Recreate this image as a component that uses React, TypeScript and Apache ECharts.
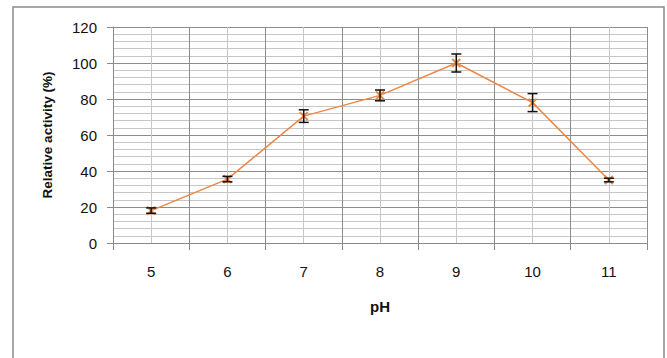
import React, { useEffect, useRef } from "react";
import * as echarts from "echarts";

const phLabels = ["5", "6", "7", "8", "9", "10", "11"];
const activity = [18, 35.5, 70.5, 82, 100, 78, 35];
const errors = [1.5, 1.5, 3.5, 3, 5, 5, 1];
const yTicks = { min: 0, max: 120, step: 20 };

const FONT = "'Liberation Sans', Arial, sans-serif";
const ORANGE = "#EC8745";

export default function App() {
  const ref = useRef<HTMLDivElement>(null);
  useEffect(() => {
    if (!ref.current) return;
    const chart = echarts.init(ref.current, undefined, { renderer: "svg" });
    const errData = activity.map((v, i) => [i, v - errors[i], v + errors[i]]);
    chart.setOption({
      animation: false,
      backgroundColor: "#ffffff",
      graphic: [
        {
          type: "rect",
          shape: { x: 13, y: 7, width: 651, height: 400 },
          style: { fill: "none", stroke: "#8a8a8a", lineWidth: 1.5 },
          silent: true,
          z: -10,
        },
      ],
      grid: { left: 113, right: 20, top: 27, bottom: 115, containLabel: false },
      xAxis: [
        {
          type: "category",
          data: phLabels,
          boundaryGap: true,
          position: "bottom",
          axisLine: { show: true, lineStyle: { color: "#8a8a8a", width: 1 } },
          axisTick: { show: true, length: 7, lineStyle: { color: "#8a8a8a" } },
          axisLabel: { margin: 21, fontFamily: FONT, fontSize: 15, color: "#111111" },
          splitLine: { show: false },
          name: "pH",
          nameLocation: "middle",
          nameGap: 56,
          nameTextStyle: { fontFamily: FONT, fontSize: 15, fontWeight: "bold", color: "#111111" },
        },
        {
          type: "value",
          min: 4.5,
          max: 11.5,
          interval: 0.5,
          position: "bottom",
          axisLine: { show: false },
          axisTick: { show: false },
          axisLabel: { show: false },
          splitLine: { show: true, lineStyle: { color: ["#8c8c8c", "#c6c6c6"], width: 1 } },
        },
      ],
      yAxis: {
        type: "value",
        min: yTicks.min,
        max: yTicks.max,
        interval: yTicks.step,
        axisLine: { show: true, lineStyle: { color: "#8a8a8a", width: 1 } },
        axisTick: { show: true, length: 6, lineStyle: { color: "#8a8a8a" } },
        axisLabel: { margin: 16, fontFamily: FONT, fontSize: 15, color: "#111111" },
        splitLine: { show: true, lineStyle: { color: "#8c8c8c", width: 1 } },
        minorTick: { show: false, splitNumber: 5 },
        minorSplitLine: { show: true, lineStyle: { color: "#c6c6c6", width: 1 } },
        name: "Relative activity (%)",
        nameLocation: "middle",
        nameGap: 59,
        nameTextStyle: { fontFamily: FONT, fontSize: 13.5, fontWeight: "bold", color: "#111111" },
      },
      series: [
        {
          type: "line",
          xAxisIndex: 0,
          yAxisIndex: 0,
          data: activity,
          lineStyle: { color: ORANGE, width: 1.5 },
          symbol: "path://M0,0L10,10M10,0L0,10",
          symbolSize: 8,
          showSymbol: true,
          itemStyle: { color: ORANGE, borderColor: ORANGE, borderWidth: 2 },
          z: 3,
        },
        {
          type: "custom",
          xAxisIndex: 0,
          yAxisIndex: 0,
          data: errData,
          z: 4,
          renderItem: (params: any, api: any) => {
            const x = api.value(0);
            const lo = api.value(1);
            const hi = api.value(2);
            const top = api.coord([x, hi]);
            const bot = api.coord([x, lo]);
            const w = 5;
            const st = { stroke: "#111111", lineWidth: 1.5 };
            return {
              type: "group",
              children: [
                { type: "line", shape: { x1: top[0], y1: top[1], x2: bot[0], y2: bot[1] }, style: st },
                { type: "line", shape: { x1: top[0] - w, y1: top[1], x2: top[0] + w, y2: top[1] }, style: st },
                { type: "line", shape: { x1: bot[0] - w, y1: bot[1], x2: bot[0] + w, y2: bot[1] }, style: st },
              ],
            };
          },
        },
      ],
    });
    return () => chart.dispose();
  }, []);
  return (
    <div
      ref={ref}
      style={{ position: "fixed", left: 0, top: 0, width: 667, height: 358, background: "#fff" }}
    />
  );
}
